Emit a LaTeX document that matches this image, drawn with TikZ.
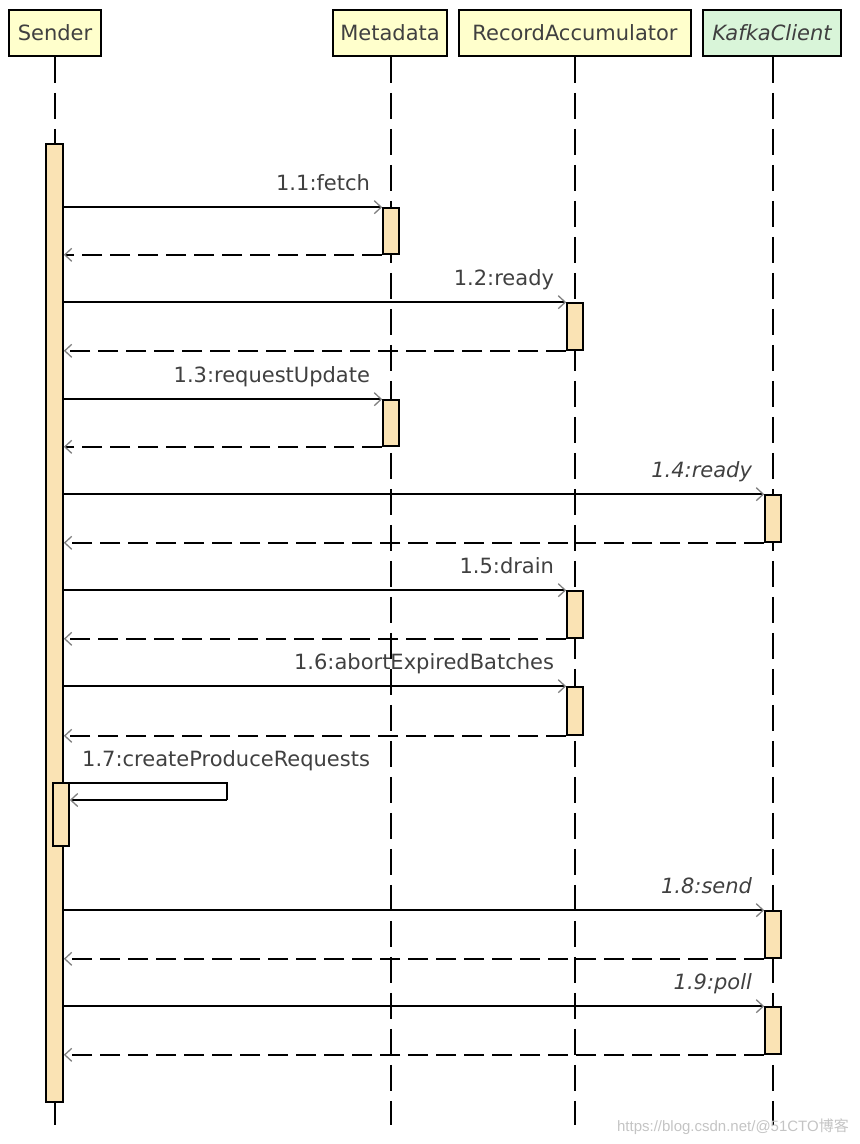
\documentclass[tikz,border=0pt]{standalone}
\usepackage{fontspec}
\setmainfont{DejaVu Sans}
\newfontfamily\wmfont{Liberation Sans}
\newfontfamily\cjkfont{Noto Sans CJK SC}
\usetikzlibrary{arrows.meta}
\definecolor{hdr}{HTML}{FFFFCC}
\definecolor{hdrg}{HTML}{D9F5D9}
\definecolor{actc}{HTML}{FAE3B4}
\definecolor{txt}{HTML}{404040}
\definecolor{wm}{HTML}{C4C4C4}
\newcommand{\fsz}{\fontsize{21}{25}\selectfont}
\begin{document}
\begin{tikzpicture}[x=1pt,y=-1pt,
  head/.style={draw=black, line width=1.9pt, fill=hdr, text=txt, font=\fsz, minimum height=46pt, inner sep=0pt},
  actbox/.style={draw=black, line width=1.6pt, fill=actc, minimum width=16pt, inner sep=0pt},
  life/.style={line width=1.8pt, dash pattern=on 26pt off 10pt},
  msg/.style={line width=1.8pt, -{Straight Barb[length=7pt,width=13pt,line width=1.3pt,color=gray]}},
  ret/.style={msg, dash pattern=on 20pt off 8pt},
  lbl/.style={text=txt, font=\fsz, inner sep=0pt},
  ilbl/.style={lbl, font=\fsz\itshape}]
\useasboundingbox (0,0) rectangle (860,1144);
% headers
\node[head, minimum width=92pt] (sender) at (55,33) {Sender};
\node[head, minimum width=114pt] (meta) at (390,33) {Metadata};
\node[head, minimum width=232pt] (racc) at (575,33) {RecordAccumulator};
\node[head, minimum width=138pt, fill=hdrg, font=\fsz\itshape] (kafka) at (772,33) {KafkaClient};
% lifeline ends
\coordinate (sEnd) at (55,1125);
\coordinate (mEnd) at (391,1125);
\coordinate (rEnd) at (575,1125);
\coordinate (kEnd) at (773,1125);
\draw[life] (sender.south -| sEnd) -- (sEnd);
\draw[life] (meta.south -| mEnd) -- (mEnd);
\draw[life] (racc.south -| rEnd) -- (rEnd);
\draw[life] (kafka.south -| kEnd) -- (kEnd);
% activations
\node[actbox, minimum width=17pt, minimum height=958pt] (sa) at (54.5,623) {};
\node[actbox, minimum height=46pt] (m1) at (391,231) {};
\node[actbox, minimum height=47pt] (r2) at (575,326.5) {};
\node[actbox, minimum height=46pt] (m3) at (391,423) {};
\node[actbox, minimum height=47pt] (k4) at (773,518.5) {};
\node[actbox, minimum height=47pt] (r5) at (575,614.5) {};
\node[actbox, minimum height=48pt] (r6) at (575,711) {};
\node[actbox, minimum height=47pt] (k8) at (773,934.5) {};
\node[actbox, minimum height=47pt] (k9) at (773,1030.5) {};
% messages
\foreach \a/\t/\s in {m1/1.1:fetch/lbl, r2/1.2:ready/lbl, m3/1.3:requestUpdate/lbl, k4/1.4:ready/ilbl, r5/1.5:drain/lbl, r6/1.6:abortExpiredBatches/lbl, k8/1.8:send/ilbl, k9/1.9:poll/ilbl}{
  \draw[msg] (sa.east |- \a.north west) -- (\a.north west);
  \draw[ret] (\a.south west) -- (sa.east |- \a.south west);
  \node[\s, anchor=base east] (l-\a) at ([xshift=-12pt,yshift=17pt]\a.north west) {\t};
}
% self call
\coordinate (loopR) at (227,783);
\coordinate (loopB) at (227,800);
\node[lbl, anchor=base west] (l7) at (82,766) {1.7:createProduceRequests};
\draw[line width=1.8pt] (sa.east |- loopR) -- (loopR) -- (loopB);
\node[actbox, minimum height=63pt] (na) at (61,814.5) {};
\draw[msg] (loopB) -- (na.east |- loopB);
% watermark
\node[text=wm, font=\wmfont\fontsize{15}{18}\selectfont, anchor=base east, inner sep=0pt] (wmk) at (849,1131) {https://blog.csdn.net/@51CTO{\cjkfont 博客}};
\end{tikzpicture}
\end{document}
